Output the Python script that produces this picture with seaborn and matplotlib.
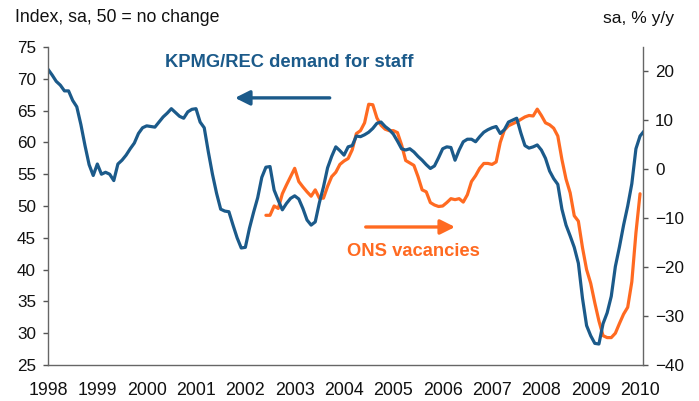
import numpy as np
import pandas as pd
import matplotlib
matplotlib.use("Agg")
import matplotlib.pyplot as plt
import seaborn as sns

# KPMG/REC demand for staff index (monthly, from Jan 1998), left axis
kpmg = [71.5, 70.6, 69.6, 69.0, 68.1, 68.1, 66.6, 65.6, 62.8, 59.5, 56.5, 54.8,
        56.6, 55.0, 55.3, 55.0, 54.0, 56.6, 57.2, 58.0, 59.0, 59.9, 61.4, 62.3,
        62.6, 62.5, 62.4, 63.2, 64.0, 64.6, 65.3, 64.7, 64.1, 63.8, 64.8, 65.2,
        65.3, 63.2, 62.3, 58.5, 55.0, 52.0, 49.5, 49.2, 49.1, 47.0, 45.0, 43.4,
        43.5, 46.5, 49.0, 51.3, 54.5, 56.1, 56.2, 52.5, 50.9, 49.4, 50.4, 51.2,
        51.6, 51.1, 49.6, 47.8, 47.0, 47.5, 50.5, 53.0, 56.0, 57.8, 59.3, 58.7,
        58.0, 59.3, 59.5, 61.0, 60.9, 61.2, 61.6, 62.2, 63.0, 63.2, 62.5, 62.0,
        61.3, 60.2, 59.0, 58.8, 59.0, 58.5, 57.8, 57.2, 56.5, 55.9, 56.3, 57.6,
        59.0, 59.3, 59.2, 57.2, 58.8, 60.1, 60.5, 60.5, 60.1, 60.9, 61.6, 62.0,
        62.3, 62.5, 61.4, 62.0, 63.2, 63.5, 63.8, 61.5, 59.5, 59.1, 59.3, 59.6,
        58.8, 57.5, 55.5, 54.3, 53.4, 49.5, 47.0, 45.3, 43.5, 41.0, 35.5, 31.2,
        29.6, 28.4, 28.3, 31.5, 33.2, 35.8, 40.5, 43.6, 47.0, 50.0, 53.5, 59.0,
        61.0, 61.8]

# ONS vacancies % y/y (monthly, from Jun 2002), right axis
ons_start_month = 53
ons = [-9.4, -9.4, -7.5, -8.0, -5.0, -3.2, -1.5, 0.2, -2.5, -3.6, -4.6, -5.5,
       -4.2, -5.9, -5.9, -3.5, -1.5, -0.6, 1.0, 1.7, 2.2, 4.0, 7.3, 7.9,
       9.5, 13.3, 13.2, 10.5, 9.0, 8.2, 7.9, 7.9, 7.5, 5.0, 1.8, 1.3,
       0.8, -1.5, -4.2, -4.6, -6.8, -7.3, -7.6, -7.5, -6.8, -6.0, -6.2, -6.0,
       -6.7, -5.2, -2.5, -1.3, 0.2, 1.2, 1.2, 1.0, 1.5, 5.5, 8.0, 8.9,
       9.3, 9.7, 10.2, 10.7, 11.0, 10.9, 12.3, 11.0, 9.5, 9.1, 8.4, 6.8,
       2.0, -2.0, -4.8, -9.5, -10.6, -16.0, -20.5, -23.3, -27.3, -31.0, -34.0, -34.4,
       -34.4, -33.5, -31.5, -29.6, -28.2, -23.0, -13.0, -5.0]

year_ticks = list(range(1998, 2011))
left_ticks = [25, 30, 35, 40, 45, 50, 55, 60, 65, 70, 75]
right_ticks = [-40, -30, -20, -10, 0, 10, 20]

BLUE = "#1B5A8A"
ORANGE = "#FF6A21"

df_k = pd.DataFrame({"year": 1998 + np.arange(len(kpmg)) / 12.0, "value": kpmg})
df_o = pd.DataFrame({"year": 1998 + (ons_start_month + np.arange(len(ons))) / 12.0,
                     "value": ons})

sns.set_theme(style="white")
plt.rcParams["font.family"] = ["Liberation Sans", "DejaVu Sans"]

fig = plt.figure(figsize=(6.99, 4.01), dpi=100)
ax = fig.add_axes([48 / 699, 1 - 365 / 401, (643 - 48) / 699, (365 - 47) / 401])
ax2 = ax.twinx()

sns.lineplot(data=df_o, x="year", y="value", ax=ax2, color=ORANGE, lw=2.3)
sns.lineplot(data=df_k, x="year", y="value", ax=ax, color=BLUE, lw=2.3)

ax.set_zorder(ax2.get_zorder() + 1)
ax.patch.set_visible(False)

ax.set_xlim(1998.0, 2010.06)
ax.set_ylim(25, 75)
ax2.set_ylim(-40, 25)
ax.set_xticks(year_ticks)
ax.set_xticklabels([str(y) for y in year_ticks])
ax.set_yticks(left_ticks)
ax2.set_yticks(right_ticks)
for a in (ax, ax2):
    a.set_xlabel("")
    a.set_ylabel("")
    a.grid(False)

ax.tick_params(axis="y", direction="out", length=3.6, width=1, colors="#555555",
               labelcolor="#111111", labelsize=12.3, pad=5)
ax.tick_params(axis="x", direction="out", length=3.6, width=1, colors="#555555",
               labelcolor="#111111", labelsize=12.8, pad=8.5)
ax2.tick_params(axis="y", direction="out", length=3.6, width=1, colors="#555555",
                labelcolor="#111111", labelsize=12.3, pad=5)

for a in (ax, ax2):
    a.spines["top"].set_visible(False)
    for s in ("left", "right", "bottom"):
        a.spines[s].set_color("#666666")
        a.spines[s].set_linewidth(1.0)
ax.spines["right"].set_visible(False)
ax2.spines["left"].set_visible(False)
ax2.spines["bottom"].set_visible(False)

fig.text(15 / 699, 1 - 18 / 401, "Index, sa, 50 = no change", fontsize=12.8,
         ha="left", va="center", color="#111111")
fig.text(674 / 699, 1 - 18 / 401, "sa, % y/y", fontsize=12.6,
         ha="right", va="center", color="#111111")

ax.text(2000.37, 72.6, "KPMG/REC demand for staff", color=BLUE, fontsize=13.2,
        fontweight="bold", ha="left", va="center")
ax.text(2004.06, 42.8, "ONS vacancies", color=ORANGE, fontsize=13.2,
        fontweight="bold", ha="left", va="center")

ax.annotate("", xy=(2001.79, 67.0), xytext=(2003.71, 67.0),
            arrowprops=dict(arrowstyle="-|>", color=BLUE, lw=2.4, mutation_scale=22,
                            shrinkA=0, shrinkB=0))
ax.annotate("", xy=(2006.25, 46.7), xytext=(2004.44, 46.7),
            arrowprops=dict(arrowstyle="-|>", color=ORANGE, lw=2.4, mutation_scale=22,
                            shrinkA=0, shrinkB=0))

fig.savefig("out.png", dpi=100)
